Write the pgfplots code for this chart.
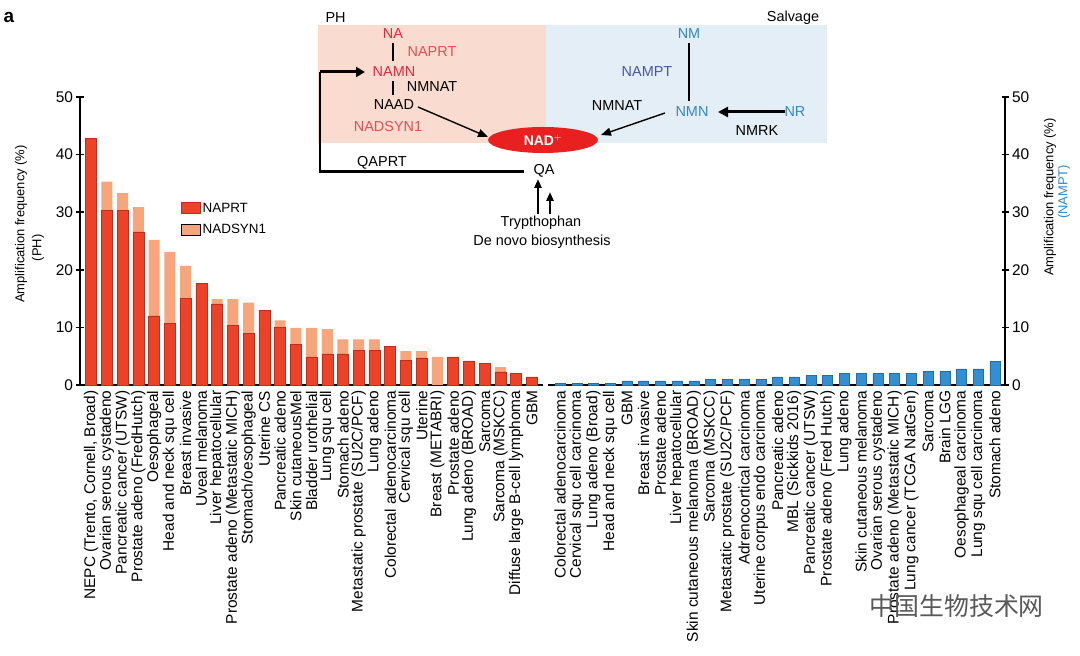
\documentclass[border=0pt]{standalone}
\usepackage{pgfplots}
\pgfplotsset{compat=1.18}
\usepackage{pgfplotstable}
\usepackage{fontspec}
\setmainfont{Liberation Sans}
\newfontfamily\cjk{Noto Sans CJK SC}
\usetikzlibrary{arrows.meta}

\definecolor{naprt}{RGB}{236,66,40}
\definecolor{naprtdark}{RGB}{190,45,30}
\definecolor{nadsyn}{RGB}{246,165,125}
\definecolor{nampt}{RGB}{52,143,208}
\definecolor{namptdark}{RGB}{35,110,170}
\definecolor{pinkbox}{RGB}{250,219,208}
\definecolor{bluebox}{RGB}{228,238,246}
\definecolor{nadred}{RGB}{232,32,32}
\definecolor{txtred}{RGB}{228,40,60}
\definecolor{txtred2}{RGB}{226,80,80}
\definecolor{txtblue}{RGB}{50,135,200}
\definecolor{txtpurple}{RGB}{75,85,160}

% PH genes: NAPRT and extra NADSYN1 (stacked), in %
\pgfplotstableread{
idx naprt nadsyn
0  42.8 0
1  30.3 5.0
2  30.3 3.0
3  26.6 4.3
4  12.0 13.2
5  10.7 12.4
6  15.1 5.6
7  17.7 0
8  14.1 0.8
9  10.3 4.6
10 9.0  5.3
11 13.0 0
12 10.0 1.2
13 7.0  2.9
14 4.9  5.0
15 5.4  4.3
16 5.4  2.5
17 6.0  1.9
18 6.0  1.9
19 6.7  0
20 4.3  1.6
21 4.7  1.2
22 0    4.9
23 4.9  0
24 4.2  0
25 3.8  0
26 2.3  0.8
27 2.0  0
28 1.4  0
}\phtable

% NAMPT, in %
\pgfplotstableread{
idx nampt
0  0.25
1  0.25
2  0.25
3  0.25
4  0.7
5  0.7
6  0.7
7  0.7
8  0.7
9  1.0
10 1.0
11 1.0
12 1.0
13 1.4
14 1.4
15 1.7
16 1.7
17 2.0
18 2.0
19 2.0
20 2.0
21 2.0
22 2.4
23 2.4
24 2.8
25 2.8
26 4.1
}\namptable

\pgfplotsset{
  ampaxis/.style={
    scale only axis, height=288bp,
    ymin=0, ymax=50, ytick={0,10,...,50},
    axis x line*=bottom,
    axis line style={line width=1.6bp, black},
    major tick length=7bp, tick align=center,
    tick style={line width=1.6bp, black},
    xtick style={draw=none},
    /pgf/number format/assume math mode=true,
    yticklabel style={font=\fontsize{15.5}{15.5}\selectfont},
    xticklabel style={rotate=90, anchor=east, font=\fontsize{15.5}{16}\selectfont, inner sep=2bp},
    ybar stacked,
    clip=false,
  },
}

\begin{document}
\begin{tikzpicture}
\path[use as bounding box, fill=white] (0,0) rectangle (1080bp,656bp);

\begin{axis}[ampaxis,
  at={(80bp,271bp)}, anchor=south west,
  width=463bp, xmin=-0.7, xmax=28.7,
  axis y line*=left,
  bar width=11bp,
  xtick={0,...,28},
  xticklabels={{NEPC (Trento, Cornell, Broad)},{Ovarian serous cystadeno},{Pancreatic cancer (UTSW)},{Prostate adeno (FredHutch)},{Oesophageal},{Head and neck squ cell},{Breast invasive},{Uveal melanoma},{Liver hepatocellular},{Prostate adeno (Metastatic MICH)},{Stomach/oesophageal},{Uterine CS},{Pancreatic adeno},{Skin cutaneousMel},{Bladder urothelial},{Lung squ cell},{Stomach adeno},{Metastatic prostate (SU2C/PCF)},{Lung adeno},{Colorectal adenocarcinoma},{Cervical squ cell},{Uterine},{Breast (METABRI)},{Prostate adeno},{Lung adeno (BROAD)},{Sarcoma},{Sarcoma (MSKCC)},{Diffuse large B-cell lymphoma},{GBM}},
  legend style={at={(0.218,0.64)}, anchor=north west, draw=none, fill=none,
    font=\fontsize{13.5}{13.5}\selectfont, row sep=7bp, inner sep=0pt},
  legend cell align=left,
  legend image code/.code={\draw[#1] (0bp,-5.5bp) rectangle (19bp,5.5bp);},
]
\addplot[fill=naprt, draw=naprtdark, line width=0.5bp] table[x=idx, y=naprt] {\phtable};
\addplot[fill=nadsyn, draw=none] table[x=idx, y=nadsyn] {\phtable};
\legend{NAPRT, NADSYN1}
\end{axis}

\begin{axis}[ampaxis,
  at={(548bp,271bp)}, anchor=south west,
  width=457bp, xmin=-0.72, xmax=26.6,
  axis y line*=right, yticklabel pos=right,
  bar width=10bp,
  xtick={0,...,26},
  xticklabels={{Colorectal adenocarcinoma},{Cervical squ cell carcinoma},{Lung adeno (Broad)},{Head and neck squ cell},{GBM},{Breast invasive},{Prostate adeno},{Liver hepatocellular},{Skin cutaneous melanoma (BROAD)},{Sarcoma (MSKCC)},{Metastatic prostate (SU2C/PCF)},{Adrenocortical carcinoma},{Uterine corpus endo carcinoma},{Pancreatic adeno},{MBL (Sickkids 2016)},{Pancreatic cancer (UTSW)},{Prostate adeno (Fred Hutch)},{Lung adeno},{Skin cutaneous melanoma},{Ovarian serous cystadeno},{Prostate adeno (Metastatic MICH)},{Lung cancer (TCGA NatGen)},{Sarcoma},{Brain LGG},{Oesophageal carcinoma},{Lung squ cell carcinoma},{Stomach adeno}},
]
\addplot[fill=nampt, draw=namptdark, line width=0.4bp] table[x=idx, y=nampt] {\namptable};
\end{axis}

\begin{scope}[x=1bp, y=-1bp, yshift=656bp, font=\fontsize{14.5}{14.5}\selectfont]
  % panel letter
  \node[font=\fontsize{19}{19}\selectfont\bfseries] at (9,18) {a};
  % axis titles
  \node[rotate=90, font=\fontsize{13}{13}\selectfont] at (21,224) {Amplification frequency (\%)};
  \node[rotate=90, font=\fontsize{13}{13}\selectfont] at (38,248) {(PH)};
  \node[rotate=90, font=\fontsize{13}{13}\selectfont] at (1050,197) {Amplification frequency (\%)};
  \node[rotate=90, font=\fontsize{13}{13}\selectfont, text=txtblue] at (1064,192) {(NAMPT)};

  % pathway inset
  \fill[pinkbox] (318,25) rectangle (546,143);
  \fill[bluebox] (546,25) rectangle (827,143);
  \node[anchor=west] at (322,18) {PH};
  \node at (793,18) {Salvage};
  \node[text=txtred] at (393,34) {NA};
  \node[text=txtred2] at (432,52) {NAPRT};
  \node[text=txtred] at (394,72) {NAMN};
  \node at (432,87) {NMNAT};
  \node at (394,105) {NAAD};
  \node[text=txtred2] at (388,127) {NADSYN1};
  \node at (382,163) {QAPRT};
  \node at (544,171) {QA};
  \node[text=txtblue] at (689,34) {NM};
  \node[text=txtpurple] at (647,72) {NAMPT};
  \node at (617,106) {NMNAT};
  \node[text=txtblue] at (692,112) {NMN};
  \node[text=txtblue] at (795,112) {NR};
  \node at (757,131) {NMRK};
  \node at (541,223) {Trypthophan};
  \node at (542,242) {De novo biosynthesis};

  \draw[line width=2.7bp] (393,43) -- (393,61);
  \draw[line width=2.7bp] (393,81) -- (393,95);
  \draw[line width=2.7bp] (689,43) -- (689,101);
  \draw[line width=3bp, -{Triangle[length=9bp,width=10bp]}] (320,72) -- (365,72);
  \draw[line width=2.7bp] (320,72) -- (320,171.5) -- (524,171.5);
  \draw[line width=1.4bp, -{Triangle[length=10bp,width=8bp]}] (418,107) -- (488,137);
  \draw[line width=1.4bp, -{Triangle[length=10bp,width=8bp]}] (665,113) -- (601,135);
  \draw[line width=3bp, -{Triangle[length=10bp,width=10bp]}] (785,112) -- (718,112);
  \draw[line width=2.5bp, -{Triangle[length=9bp,width=7bp]}] (538,214) -- (538,179);
  \draw[line width=2.5bp, -{Triangle[length=9bp,width=7bp]}] (550,214) -- (550,192);
  \fill[nadred] (543,140) ellipse [x radius=55, y radius=13];
  \node[text=white, font=\fontsize{14}{14}\selectfont\bfseries] at (543,140) {NAD$^{+}$};

  % watermark
  \node[anchor=west, text=black!65, font=\cjk\fontsize{25}{25}\selectfont] at (866,606) {中国生物技术网};
\end{scope}
\end{tikzpicture}
\end{document}
